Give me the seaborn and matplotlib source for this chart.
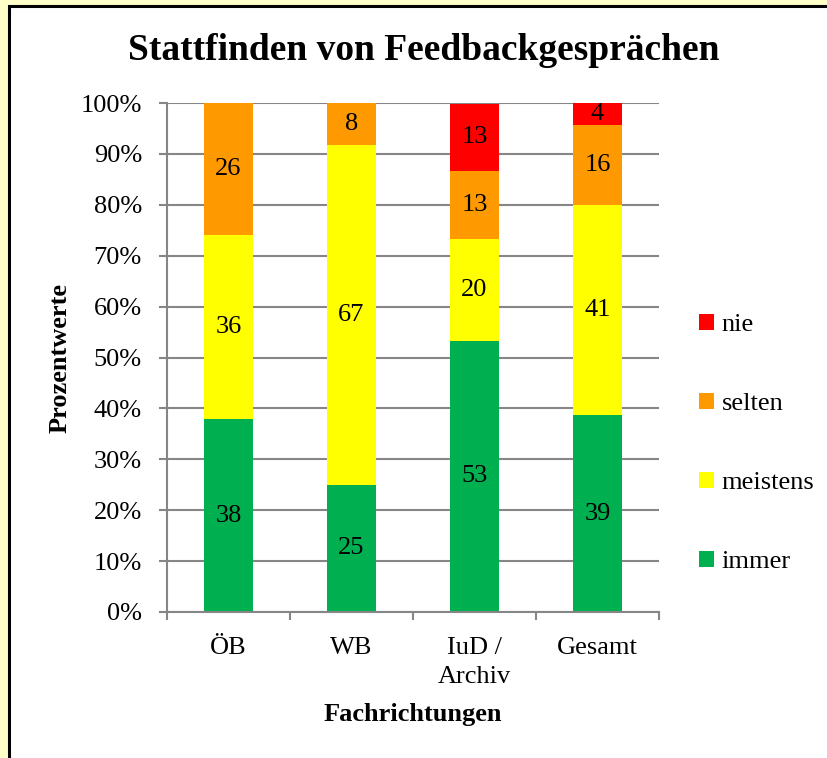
import numpy as np
import pandas as pd
import matplotlib
matplotlib.use("Agg")
import matplotlib.pyplot as plt
from matplotlib.patches import Rectangle, Patch
import seaborn as sns

# ---- data ----
categories = ["ÖB", "WB", "IuD /\nArchiv", "Gesamt"]
immer    = [37.9, 25.0, 53.3, 38.7]
meistens = [36.2, 66.7, 20.0, 41.3]
selten   = [25.9, 8.3, 13.3, 15.7]
nie      = [0.0, 0.0, 13.3, 4.3]
series_names = ["immer", "meistens", "selten", "nie"]
series_values = [immer, meistens, selten, nie]
series_colors = ["#00B050", "#FFFF00", "#FF9900", "#FF0000"]
y_ticks = list(range(0, 101, 10))
y_tick_labels = [f"{v}%" for v in y_ticks]

sns.set_theme(style="white")
plt.rcParams["font.family"] = ["Liberation Serif", "DejaVu Serif"]
plt.rcParams["text.color"] = "black"
plt.rcParams["axes.labelcolor"] = "black"
plt.rcParams["xtick.color"] = "black"
plt.rcParams["ytick.color"] = "black"

W, H = 828, 758
fig = plt.figure(figsize=(W / 100, H / 100), dpi=100)
fig.patch.set_facecolor("#FFFFC8")
fig.add_artist(Rectangle((9 / W, -0.05), 1.1, 1 - 6 / H + 0.05,
                         transform=fig.transFigure, facecolor="white",
                         edgecolor="black", linewidth=2.2, zorder=0))

ax = fig.add_axes([167 / W, 1 - 612 / H, (659 - 167) / W, (612 - 103) / H])
ax.set_facecolor("none")

df = pd.DataFrame({"cat": categories})
for name, vals in zip(series_names, series_values):
    df[name] = vals
cum = df[series_names].cumsum(axis=1)

# draw from top (largest cumulative) down so lower layers overlay
for name, color in reversed(list(zip(series_names, series_colors))):
    sns.barplot(x=df["cat"], y=cum[name], color=color, saturation=1,
                width=0.4, order=categories, ax=ax, linewidth=0, zorder=2)

# segment labels
for i in range(len(categories)):
    bottom = 0.0
    for name in series_names:
        v = df.loc[i, name]
        if v > 0:
            ax.text(i, bottom + v / 2, f"{int(round(v))}", ha="center",
                    va="center", fontsize=19, color="black", zorder=3)
        bottom += v

ax.set_xlim(-0.5, len(categories) - 0.5)
ax.set_ylim(0, 100)
ax.set_yticks(y_ticks)
ax.set_yticklabels(y_tick_labels, fontsize=19)
ax.set_xticks(range(len(categories)))
ax.set_xticklabels(categories, fontsize=19, linespacing=1.4)
ax.set_xticks(np.arange(-0.5, len(categories), 1.0), minor=True)
ax.tick_params(axis="x", which="major", length=0, pad=18, labelcolor="black")
ax.tick_params(axis="x", which="minor", length=6, width=1.5, color="#868686",
               direction="out", bottom=True)
ax.tick_params(axis="y", which="major", length=6, width=1.5, color="#868686",
               direction="out", left=True, pad=12, labelcolor="black")
ax.set_xlabel("")
ax.set_ylabel("")

ax.yaxis.grid(True, color="#868686", linewidth=1.5, zorder=0)
ax.xaxis.grid(False)
ax.set_axisbelow(True)
for s in ["top", "right"]:
    ax.spines[s].set_visible(False)
for s in ["left", "bottom"]:
    ax.spines[s].set_color("#868686")
    ax.spines[s].set_linewidth(1.5)

fig.text(423.5 / W, 1 - 50 / H, "Stattfinden von Feedbackgesprächen",
         ha="center", va="center", fontsize=27, fontweight="bold", color="black")
fig.text(413 / W, 1 - 715 / H, "Fachrichtungen", ha="center", va="center",
         fontsize=19, fontweight="bold", color="black")
fig.text(60 / W, 1 - 358 / H, "Prozentwerte", ha="center", va="center",
         rotation=90, fontsize=19, fontweight="bold", color="black")

handles = [Patch(facecolor=c, edgecolor="none", label=n)
           for n, c in zip(series_names, series_colors)][::-1]
leg = fig.legend(handles=handles, loc="center left",
                 bbox_to_anchor=(699 / W, 1 - 443.5 / H), frameon=False,
                 fontsize=19, labelspacing=2.15, handlelength=0.55,
                 handleheight=0.55, handletextpad=0.3, borderpad=0,
                 borderaxespad=0)
for t in leg.get_texts():
    t.set_color("black")

fig.savefig("out.png", dpi=100, facecolor=fig.get_facecolor())
